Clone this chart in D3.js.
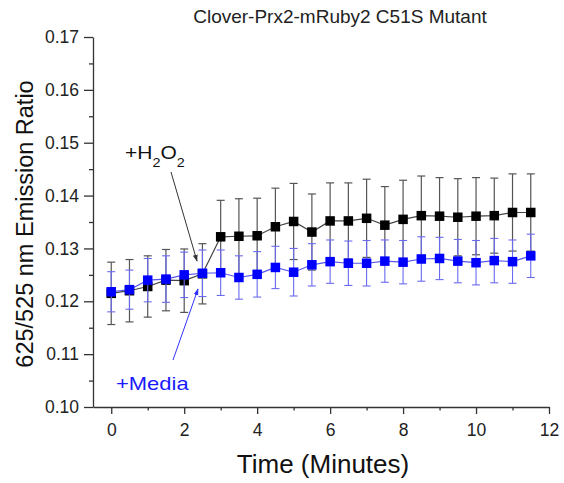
<!DOCTYPE html>
<html>
<head>
<meta charset="utf-8">
<script src="https://cdn.jsdelivr.net/npm/d3@7"></script>
<style>
  html, body { margin: 0; padding: 0; background: #fff; }
  svg { display: block; font-family: "Liberation Sans", Arial, sans-serif; }
</style>
</head>
<body>
<svg id="chart" width="564" height="483"></svg>
<script>
// Time points (minutes)
const times = [0, 0.5, 1, 1.5, 2, 2.5, 3, 3.5, 4, 4.5, 5, 5.5, 6, 6.5, 7, 7.5, 8, 8.5, 9, 9.5, 10, 10.5, 11, 11.5];

// +H2O2 series: mean ratio and standard deviation
const h2o2Mean = [0.1215, 0.1220, 0.1228, 0.1240, 0.1239, 0.1252, 0.1322, 0.1323, 0.1324, 0.1341, 0.1351, 0.1331,
                  0.1352, 0.1352, 0.1357, 0.1344, 0.1355, 0.1362, 0.1361, 0.1359, 0.1361, 0.1362, 0.1368, 0.1368];
const h2o2Err  = [0.0059, 0.0059, 0.0058, 0.0058, 0.0060, 0.0057, 0.0069, 0.0071, 0.0071, 0.0073, 0.0072, 0.0072,
                  0.0072, 0.0072, 0.0074, 0.0073, 0.0074, 0.0075, 0.0073, 0.0073, 0.0073, 0.0071, 0.0073, 0.0073];

// +Media series
const mediaMean = [0.1218, 0.1222, 0.1240, 0.1242, 0.1250, 0.1253, 0.1254, 0.1245, 0.1251, 0.1264, 0.1255, 0.1269,
                   0.1275, 0.1272, 0.1272, 0.1276, 0.1274, 0.1280, 0.1281, 0.1276, 0.1273, 0.1277, 0.1275, 0.1286];
const mediaErr  = [0.0038, 0.0037, 0.0041, 0.0044, 0.0043, 0.0044, 0.0043, 0.0041, 0.0043, 0.0040, 0.0045, 0.0040,
                   0.0041, 0.0042, 0.0043, 0.0040, 0.0041, 0.0042, 0.0040, 0.0041, 0.0042, 0.0042, 0.0041, 0.0041];

// Axis ticks
const xTicks = [0, 2, 4, 6, 8, 10, 12];
const xMinorTicks = [1, 3, 5, 7, 9, 11];
const yTicks = [0.10, 0.11, 0.12, 0.13, 0.14, 0.15, 0.16, 0.17];
const yMinorTicks = [0.105, 0.115, 0.125, 0.135, 0.145, 0.155, 0.165];

const svg = d3.select("#chart");
const plot = { left: 93, right: 549, top: 37, bottom: 407 };

const x = d3.scaleLinear().domain([-0.5, 12]).range([plot.left, plot.right]);
const y = d3.scaleLinear().domain([0.10, 0.17]).range([plot.bottom, plot.top]);

// Title
svg.append("text")
  .attr("x", 340).attr("y", 23)
  .attr("text-anchor", "middle")
  .attr("font-size", 19)
  .attr("fill", "#222")
  .text("Clover-Prx2-mRuby2 C51S Mutant");

// Axes
const axisColor = "#333";
const xAxis = svg.append("g")
  .attr("transform", `translate(0,${plot.bottom})`)
  .call(d3.axisBottom(x).tickValues(xTicks).tickFormat(d3.format("d"))
    .tickSize(7).tickPadding(10).tickSizeOuter(0));
svg.append("g")
  .attr("transform", `translate(0,${plot.bottom})`)
  .call(d3.axisBottom(x).tickValues(xMinorTicks).tickFormat("").tickSize(3.5).tickSizeOuter(0))
  .call(g => g.select(".domain").remove());

const yAxis = svg.append("g")
  .attr("transform", `translate(${plot.left},0)`)
  .call(d3.axisLeft(y).tickValues(yTicks).tickFormat(d3.format(".2f"))
    .tickSize(9).tickPadding(5).tickSizeOuter(0));
svg.append("g")
  .attr("transform", `translate(${plot.left},0)`)
  .call(d3.axisLeft(y).tickValues(yMinorTicks).tickFormat("").tickSize(4).tickSizeOuter(0))
  .call(g => g.select(".domain").remove());

svg.selectAll(".domain, .tick line").attr("stroke", axisColor).attr("stroke-width", 1.3);
svg.selectAll(".tick text").attr("font-size", 17.5).attr("fill", "#222")
  .attr("font-family", "Liberation Sans, Arial, sans-serif");

// Axis titles
svg.append("text")
  .attr("x", 323).attr("y", 473)
  .attr("text-anchor", "middle")
  .attr("font-size", 26)
  .attr("fill", "#111")
  .text("Time (Minutes)");
svg.append("text")
  .attr("transform", `translate(33,224) rotate(-90)`)
  .attr("text-anchor", "middle")
  .attr("font-size", 23.5)
  .attr("fill", "#111")
  .text("625/525 nm Emission Ratio");

// Series: error bars with caps, connecting line, square markers
function drawSeries(means, errs, lineColor, barColor, markColor, barWidth) {
  const g = svg.append("g");
  const pts = times.map((t, i) => ({ t, m: means[i], e: errs[i] }));
  const cap = 4;
  const bars = g.selectAll("g.err").data(pts).join("g").attr("class", "err")
    .attr("stroke", barColor).attr("stroke-width", barWidth);
  bars.append("line")
    .attr("x1", d => x(d.t)).attr("x2", d => x(d.t))
    .attr("y1", d => y(d.m - d.e)).attr("y2", d => y(d.m + d.e));
  bars.append("line")
    .attr("x1", d => x(d.t) - cap).attr("x2", d => x(d.t) + cap)
    .attr("y1", d => y(d.m + d.e)).attr("y2", d => y(d.m + d.e));
  bars.append("line")
    .attr("x1", d => x(d.t) - cap).attr("x2", d => x(d.t) + cap)
    .attr("y1", d => y(d.m - d.e)).attr("y2", d => y(d.m - d.e));
  return { g, pts, lineColor, markColor };
}

function drawLineAndMarks(s) {
  s.g.append("path")
    .datum(s.pts)
    .attr("fill", "none")
    .attr("stroke", s.lineColor)
    .attr("stroke-width", 1.2)
    .attr("d", d3.line().x(d => x(d.t)).y(d => y(d.m)));
  const size = 9.5;
  s.g.selectAll("rect.mark").data(s.pts).join("rect").attr("class", "mark")
    .attr("x", d => x(d.t) - size / 2).attr("y", d => y(d.m) - size / 2)
    .attr("width", size).attr("height", size)
    .attr("fill", s.markColor);
}

const black = drawSeries(h2o2Mean, h2o2Err, "#444", "#555", "#000", 1.2);
const blue = drawSeries(mediaMean, mediaErr, "#5555ee", "#6a6af0", "#0000ff", 1.1);
drawLineAndMarks(black);
drawLineAndMarks(blue);

// Annotation arrows
const defs = svg.append("defs");
function marker(id, color) {
  defs.append("marker")
    .attr("id", id).attr("viewBox", "0 0 10 10")
    .attr("refX", 9).attr("refY", 5)
    .attr("markerWidth", 7).attr("markerHeight", 7)
    .attr("orient", "auto")
    .append("path").attr("d", "M0,1.5 L10,5 L0,8.5 Z").attr("fill", color);
}
marker("arrowBlack", "#333");
marker("arrowBlue", "#3333ff");

svg.append("line")
  .attr("x1", 171).attr("y1", 172).attr("x2", 197).attr("y2", 261)
  .attr("stroke", "#333").attr("stroke-width", 1)
  .attr("marker-end", "url(#arrowBlack)");
svg.append("line")
  .attr("x1", 173).attr("y1", 360).attr("x2", 198).attr("y2", 289)
  .attr("stroke", "#3333ff").attr("stroke-width", 1)
  .attr("marker-end", "url(#arrowBlue)");

// Annotation labels (slightly widened lettering)
const h = svg.append("text")
  .attr("transform", "translate(125,159) scale(1.2,1)")
  .attr("font-size", 17.5)
  .attr("fill", "#111");
h.append("tspan").text("+H");
h.append("tspan").attr("font-size", 12).attr("dy", 8).text("2");
h.append("tspan").attr("dy", -8).text("O");
h.append("tspan").attr("font-size", 12).attr("dy", 8).text("2");

svg.append("text")
  .attr("transform", "translate(116,390) scale(1.22,1)")
  .attr("font-size", 18)
  .attr("fill", "#1a1aff")
  .text("+Media");
</script>
</body>
</html>
